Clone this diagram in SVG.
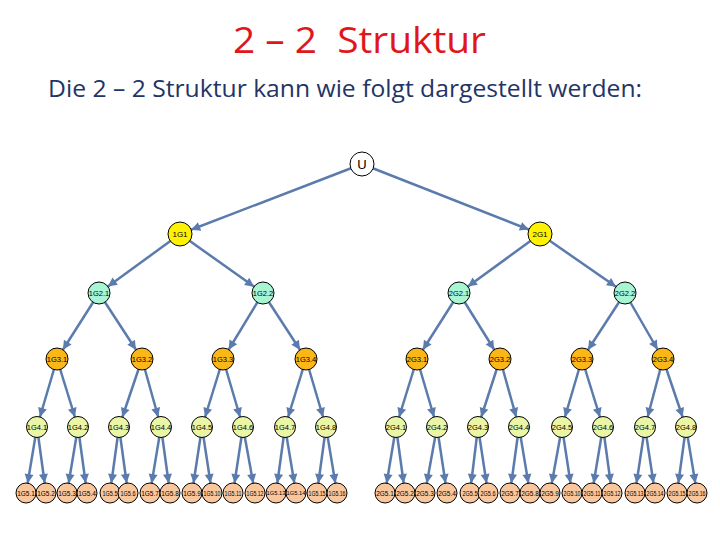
<svg xmlns="http://www.w3.org/2000/svg" width="720" height="540" viewBox="0 0 720 540">
<style>
.c{stroke:#5B7BAD;stroke-width:2.5;fill:none}
.n{stroke:#000;stroke-width:1}
.t{font-family:"Liberation Sans",Arial,sans-serif;fill:#000;text-anchor:middle;dominant-baseline:central}
.s{font-size:6.5px}
.a{fill:#5B7BAD}
.l0{fill:#fff}.l1{fill:#FFF200}.l2{fill:#A8F5D4}.l3{fill:#FBB718}.l4{fill:#EAF6A6}.l5{fill:#FAC79D}
.c1 {marker-end:url(#m12)}.c2 {marker-end:url(#m11)}.c4 {marker-end:url(#m105)}.c5 {marker-end:url(#m10)}
</style>
<defs>
<marker id="m12" markerUnits="userSpaceOnUse" viewBox="-30 -10 40 20" markerWidth="40" markerHeight="20" refX="0" refY="0" orient="auto" overflow="visible"><path class="a" d="M-12,0 L-21,-4.5 L-21,4.5 z"/></marker>
<marker id="m11" markerUnits="userSpaceOnUse" viewBox="-30 -10 40 20" markerWidth="40" markerHeight="20" refX="0" refY="0" orient="auto" overflow="visible"><path class="a" d="M-11,0 L-20,-4.5 L-20,4.5 z"/></marker>
<marker id="m105" markerUnits="userSpaceOnUse" viewBox="-30 -10 40 20" markerWidth="40" markerHeight="20" refX="0" refY="0" orient="auto" overflow="visible"><path class="a" d="M-10.5,0 L-19.5,-4.5 L-19.5,4.5 z"/></marker>
<marker id="m10" markerUnits="userSpaceOnUse" viewBox="-30 -10 40 20" markerWidth="40" markerHeight="20" refX="0" refY="0" orient="auto" overflow="visible"><path class="a" d="M-10,0 L-19,-4.5 L-19,4.5 z"/></marker>
</defs>
<rect width="720" height="540" fill="#fff"/>
<text x="233" y="53" font-family="'Open Sans','Liberation Sans',sans-serif" font-size="36" fill="#E0161B" textLength="253" lengthAdjust="spacingAndGlyphs" xml:space="preserve">2 – 2  Struktur</text>
<text x="48" y="97" font-family="'Open Sans','Liberation Sans',sans-serif" font-size="24.5" fill="#233566" textLength="594" lengthAdjust="spacingAndGlyphs">Die 2 – 2 Struktur kann wie folgt dargestellt werden:</text>
<g id="connectors">
<line class="c c1" x1="362" y1="164" x2="180" y2="234"/>
<line class="c c1" x1="362" y1="164" x2="540" y2="234"/>
<line class="c c2" x1="180" y1="234" x2="99" y2="293"/>
<line class="c c2" x1="180" y1="234" x2="263" y2="293"/>
<line class="c c2" x1="540" y1="234" x2="459" y2="293"/>
<line class="c c2" x1="540" y1="234" x2="625" y2="293"/>
<line class="c c2" x1="99" y1="293" x2="57" y2="359"/>
<line class="c c2" x1="99" y1="293" x2="142" y2="359"/>
<line class="c c2" x1="263" y1="293" x2="223" y2="359"/>
<line class="c c2" x1="263" y1="293" x2="306" y2="359"/>
<line class="c c2" x1="459" y1="293" x2="417" y2="359"/>
<line class="c c2" x1="459" y1="293" x2="500" y2="359"/>
<line class="c c2" x1="625" y1="293" x2="582" y2="359"/>
<line class="c c2" x1="625" y1="293" x2="663" y2="359"/>
<line class="c c4" x1="57" y1="359" x2="37" y2="427"/>
<line class="c c4" x1="57" y1="359" x2="78" y2="427"/>
<line class="c c4" x1="142" y1="359" x2="119" y2="427"/>
<line class="c c4" x1="142" y1="359" x2="161" y2="427"/>
<line class="c c4" x1="223" y1="359" x2="202" y2="427"/>
<line class="c c4" x1="223" y1="359" x2="243" y2="427"/>
<line class="c c4" x1="306" y1="359" x2="285" y2="427"/>
<line class="c c4" x1="306" y1="359" x2="326" y2="427"/>
<line class="c c4" x1="417" y1="359" x2="396" y2="427"/>
<line class="c c4" x1="417" y1="359" x2="437" y2="427"/>
<line class="c c4" x1="500" y1="359" x2="478" y2="427"/>
<line class="c c4" x1="500" y1="359" x2="519" y2="427"/>
<line class="c c4" x1="582" y1="359" x2="562" y2="427"/>
<line class="c c4" x1="582" y1="359" x2="603" y2="427"/>
<line class="c c4" x1="663" y1="359" x2="645" y2="427"/>
<line class="c c4" x1="663" y1="359" x2="686" y2="427"/>
<line class="c c5" x1="37" y1="427" x2="26" y2="493"/>
<line class="c c5" x1="37" y1="427" x2="46" y2="493"/>
<line class="c c5" x1="78" y1="427" x2="67" y2="493"/>
<line class="c c5" x1="78" y1="427" x2="87" y2="493"/>
<line class="c c5" x1="119" y1="427" x2="110" y2="493"/>
<line class="c c5" x1="119" y1="427" x2="128" y2="493"/>
<line class="c c5" x1="161" y1="427" x2="150" y2="493"/>
<line class="c c5" x1="161" y1="427" x2="170" y2="493"/>
<line class="c c5" x1="202" y1="427" x2="192" y2="493"/>
<line class="c c5" x1="202" y1="427" x2="212" y2="493"/>
<line class="c c5" x1="243" y1="427" x2="233" y2="493"/>
<line class="c c5" x1="243" y1="427" x2="255" y2="493"/>
<line class="c c5" x1="285" y1="427" x2="276" y2="493"/>
<line class="c c5" x1="285" y1="427" x2="296" y2="493"/>
<line class="c c5" x1="326" y1="427" x2="317" y2="493"/>
<line class="c c5" x1="326" y1="427" x2="337" y2="493"/>
<line class="c c5" x1="396" y1="427" x2="385" y2="493"/>
<line class="c c5" x1="396" y1="427" x2="405" y2="493"/>
<line class="c c5" x1="437" y1="427" x2="425" y2="493"/>
<line class="c c5" x1="437" y1="427" x2="447" y2="493"/>
<line class="c c5" x1="478" y1="427" x2="470" y2="493"/>
<line class="c c5" x1="478" y1="427" x2="488" y2="493"/>
<line class="c c5" x1="519" y1="427" x2="510" y2="493"/>
<line class="c c5" x1="519" y1="427" x2="530" y2="493"/>
<line class="c c5" x1="562" y1="427" x2="550" y2="493"/>
<line class="c c5" x1="562" y1="427" x2="572" y2="493"/>
<line class="c c5" x1="603" y1="427" x2="592" y2="493"/>
<line class="c c5" x1="603" y1="427" x2="612" y2="493"/>
<line class="c c5" x1="645" y1="427" x2="635" y2="493"/>
<line class="c c5" x1="645" y1="427" x2="655" y2="493"/>
<line class="c c5" x1="686" y1="427" x2="677" y2="493"/>
<line class="c c5" x1="686" y1="427" x2="697" y2="493"/>
</g>
<g id="nU"><circle class="n l0" cx="362" cy="164" r="12"/><text class="t" x="362" y="164" font-size="13">U</text></g>
<g id="n1G1"><circle class="n l1" cx="180" cy="234" r="12"/><text class="t" x="180" y="234" font-size="8">1G1</text></g>
<g id="n2G1"><circle class="n l1" cx="540" cy="234" r="12"/><text class="t" x="540" y="234" font-size="8">2G1</text></g>
<g id="n1G2.1"><circle class="n l2" cx="99" cy="293" r="11"/><text class="t" x="99" y="293" font-size="7.5">1G2.1</text></g>
<g id="n1G2.2"><circle class="n l2" cx="263" cy="293" r="11"/><text class="t" x="263" y="293" font-size="7.5">1G2.2</text></g>
<g id="n2G2.1"><circle class="n l2" cx="459" cy="293" r="11"/><text class="t" x="459" y="293" font-size="7.5">2G2.1</text></g>
<g id="n2G2.2"><circle class="n l2" cx="625" cy="293" r="11"/><text class="t" x="625" y="293" font-size="7.5">2G2.2</text></g>
<g id="n1G3.1"><circle class="n l3" cx="57" cy="359" r="11"/><text class="t" x="57" y="359" font-size="7.5">1G3.1</text></g>
<g id="n1G3.2"><circle class="n l3" cx="142" cy="359" r="11"/><text class="t" x="142" y="359" font-size="7.5">1G3.2</text></g>
<g id="n1G3.3"><circle class="n l3" cx="223" cy="359" r="11"/><text class="t" x="223" y="359" font-size="7.5">1G3.3</text></g>
<g id="n1G3.4"><circle class="n l3" cx="306" cy="359" r="11"/><text class="t" x="306" y="359" font-size="7.5">1G3.4</text></g>
<g id="n2G3.1"><circle class="n l3" cx="417" cy="359" r="11"/><text class="t" x="417" y="359" font-size="7.5">2G3.1</text></g>
<g id="n2G3.2"><circle class="n l3" cx="500" cy="359" r="11"/><text class="t" x="500" y="359" font-size="7.5">2G3.2</text></g>
<g id="n2G3.3"><circle class="n l3" cx="582" cy="359" r="11"/><text class="t" x="582" y="359" font-size="7.5">2G3.3</text></g>
<g id="n2G3.4"><circle class="n l3" cx="663" cy="359" r="11"/><text class="t" x="663" y="359" font-size="7.5">2G3.4</text></g>
<g id="n1G4.1"><circle class="n l4" cx="37" cy="427" r="10.5"/><text class="t" x="37" y="427" font-size="7.5">1G4.1</text></g>
<g id="n1G4.2"><circle class="n l4" cx="78" cy="427" r="10.5"/><text class="t" x="78" y="427" font-size="7.5">1G4.2</text></g>
<g id="n1G4.3"><circle class="n l4" cx="119" cy="427" r="10.5"/><text class="t" x="119" y="427" font-size="7.5">1G4.3</text></g>
<g id="n1G4.4"><circle class="n l4" cx="161" cy="427" r="10.5"/><text class="t" x="161" y="427" font-size="7.5">1G4.4</text></g>
<g id="n1G4.5"><circle class="n l4" cx="202" cy="427" r="10.5"/><text class="t" x="202" y="427" font-size="7.5">1G4.5</text></g>
<g id="n1G4.6"><circle class="n l4" cx="243" cy="427" r="10.5"/><text class="t" x="243" y="427" font-size="7.5">1G4.6</text></g>
<g id="n1G4.7"><circle class="n l4" cx="285" cy="427" r="10.5"/><text class="t" x="285" y="427" font-size="7.5">1G4.7</text></g>
<g id="n1G4.8"><circle class="n l4" cx="326" cy="427" r="10.5"/><text class="t" x="326" y="427" font-size="7.5">1G4.8</text></g>
<g id="n2G4.1"><circle class="n l4" cx="396" cy="427" r="10.5"/><text class="t" x="396" y="427" font-size="7.5">2G4.1</text></g>
<g id="n2G4.2"><circle class="n l4" cx="437" cy="427" r="10.5"/><text class="t" x="437" y="427" font-size="7.5">2G4.2</text></g>
<g id="n2G4.3"><circle class="n l4" cx="478" cy="427" r="10.5"/><text class="t" x="478" y="427" font-size="7.5">2G4.3</text></g>
<g id="n2G4.4"><circle class="n l4" cx="519" cy="427" r="10.5"/><text class="t" x="519" y="427" font-size="7.5">2G4.4</text></g>
<g id="n2G4.5"><circle class="n l4" cx="562" cy="427" r="10.5"/><text class="t" x="562" y="427" font-size="7.5">2G4.5</text></g>
<g id="n2G4.6"><circle class="n l4" cx="603" cy="427" r="10.5"/><text class="t" x="603" y="427" font-size="7.5">2G4.6</text></g>
<g id="n2G4.7"><circle class="n l4" cx="645" cy="427" r="10.5"/><text class="t" x="645" y="427" font-size="7.5">2G4.7</text></g>
<g id="n2G4.8"><circle class="n l4" cx="686" cy="427" r="10.5"/><text class="t" x="686" y="427" font-size="7.5">2G4.8</text></g>
<g id="n1G5.1"><circle class="n l5" cx="26" cy="493" r="10"/><text class="t s" x="26" y="493">1G5.1</text></g>
<g id="n1G5.2"><circle class="n l5" cx="46" cy="493" r="10"/><text class="t s" x="46" y="493">1G5.2</text></g>
<g id="n1G5.3"><circle class="n l5" cx="67" cy="493" r="10"/><text class="t s" x="67" y="493">1G5.3</text></g>
<g id="n1G5.4"><circle class="n l5" cx="87" cy="493" r="10"/><text class="t s" x="87" y="493">1G5.4</text></g>
<g id="n1G5.5"><circle class="n l5" cx="110" cy="493" r="10"/><text class="t s" x="110" y="493" textLength="15" lengthAdjust="spacingAndGlyphs">1G5.5</text></g>
<g id="n1G5.6"><circle class="n l5" cx="128" cy="493" r="10"/><text class="t s" x="128" y="493" textLength="15" lengthAdjust="spacingAndGlyphs">1G5.6</text></g>
<g id="n1G5.7"><circle class="n l5" cx="150" cy="493" r="10"/><text class="t s" x="150" y="493">1G5.7</text></g>
<g id="n1G5.8"><circle class="n l5" cx="170" cy="493" r="10"/><text class="t s" x="170" y="493">1G5.8</text></g>
<g id="n1G5.9"><circle class="n l5" cx="192" cy="493" r="10"/><text class="t s" x="192" y="493">1G5.9</text></g>
<g id="n1G5.10"><circle class="n l5" cx="212" cy="493" r="10"/><text class="t s" x="212" y="493" textLength="17" lengthAdjust="spacingAndGlyphs">1G5.10</text></g>
<g id="n1G5.11"><circle class="n l5" cx="233" cy="493" r="10"/><text class="t s" x="233" y="493" textLength="17" lengthAdjust="spacingAndGlyphs">1G5.11</text></g>
<g id="n1G5.12"><circle class="n l5" cx="255" cy="493" r="10"/><text class="t s" x="255" y="493" textLength="17" lengthAdjust="spacingAndGlyphs">1G5.12</text></g>
<g id="n1G5.13"><circle class="n l5" cx="276" cy="493" r="10"/><text class="t" x="276" y="493" font-size="5.8">1G5.13</text></g>
<g id="n1G5.14"><circle class="n l5" cx="296" cy="493" r="10"/><text class="t" x="296" y="493" font-size="5.8">1G5.14</text></g>
<g id="n1G5.15"><circle class="n l5" cx="317" cy="493" r="10"/><text class="t s" x="317" y="493" textLength="17" lengthAdjust="spacingAndGlyphs">1G5.15</text></g>
<g id="n1G5.16"><circle class="n l5" cx="337" cy="493" r="10"/><text class="t s" x="337" y="493" textLength="17" lengthAdjust="spacingAndGlyphs">1G5.16</text></g>
<g id="n2G5.1"><circle class="n l5" cx="385" cy="493" r="10"/><text class="t s" x="385" y="493">2G5.1</text></g>
<g id="n2G5.2"><circle class="n l5" cx="405" cy="493" r="10"/><text class="t s" x="405" y="493">2G5.2</text></g>
<g id="n2G5.3"><circle class="n l5" cx="425" cy="493" r="10"/><text class="t s" x="425" y="493">2G5.3</text></g>
<g id="n2G5.4"><circle class="n l5" cx="447" cy="493" r="10"/><text class="t s" x="447" y="493">2G5.4</text></g>
<g id="n2G5.5"><circle class="n l5" cx="470" cy="493" r="10"/><text class="t s" x="470" y="493" textLength="15" lengthAdjust="spacingAndGlyphs">2G5.5</text></g>
<g id="n2G5.6"><circle class="n l5" cx="488" cy="493" r="10"/><text class="t s" x="488" y="493" textLength="15" lengthAdjust="spacingAndGlyphs">2G5.6</text></g>
<g id="n2G5.7"><circle class="n l5" cx="510" cy="493" r="10"/><text class="t s" x="510" y="493">2G5.7</text></g>
<g id="n2G5.8"><circle class="n l5" cx="530" cy="493" r="10"/><text class="t s" x="530" y="493">2G5.8</text></g>
<g id="n2G5.9"><circle class="n l5" cx="550" cy="493" r="10"/><text class="t s" x="550" y="493">2G5.9</text></g>
<g id="n2G5.10"><circle class="n l5" cx="572" cy="493" r="10"/><text class="t s" x="572" y="493" textLength="17" lengthAdjust="spacingAndGlyphs">2G5.10</text></g>
<g id="n2G5.11"><circle class="n l5" cx="592" cy="493" r="10"/><text class="t s" x="592" y="493" textLength="17" lengthAdjust="spacingAndGlyphs">2G5.11</text></g>
<g id="n2G5.12"><circle class="n l5" cx="612" cy="493" r="10"/><text class="t s" x="612" y="493" textLength="17" lengthAdjust="spacingAndGlyphs">2G5.12</text></g>
<g id="n2G5.13"><circle class="n l5" cx="635" cy="493" r="10"/><text class="t s" x="635" y="493" textLength="17" lengthAdjust="spacingAndGlyphs">2G5.13</text></g>
<g id="n2G5.14"><circle class="n l5" cx="655" cy="493" r="10"/><text class="t s" x="655" y="493" textLength="17" lengthAdjust="spacingAndGlyphs">2G5.14</text></g>
<g id="n2G5.15"><circle class="n l5" cx="677" cy="493" r="10"/><text class="t s" x="677" y="493" textLength="17" lengthAdjust="spacingAndGlyphs">2G5.15</text></g>
<g id="n2G5.16"><circle class="n l5" cx="697" cy="493" r="10"/><text class="t s" x="697" y="493" textLength="17" lengthAdjust="spacingAndGlyphs">2G5.16</text></g>
</svg>
